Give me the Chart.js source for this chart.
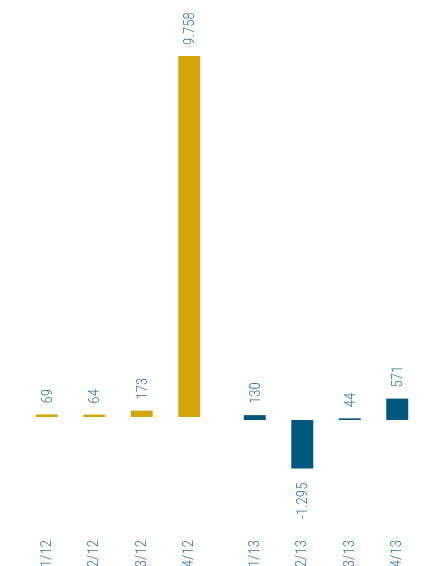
<!DOCTYPE html>
<html>
<head>
<meta charset="utf-8">
<script src="https://cdn.jsdelivr.net/npm/chart.js@4/dist/chart.umd.min.js"></script>
<style>
  html, body { margin: 0; padding: 0; background: #ffffff; overflow: hidden; }
  body { width: 424px; height: 566px; position: relative; }
  .wrap { position: absolute; top: 0; width: 190px; height: 570px; }
  #w1 { left: 23px; }
  #w2 { left: 231px; }
</style>
</head>
<body>
<div class="wrap" id="w1"><canvas id="c1" width="190" height="570"></canvas></div>
<div class="wrap" id="w2"><canvas id="c2" width="190" height="570"></canvas></div>
<script>
const categories2012 = ['1/12', '2/12', '3/12', '4/12'];
const values2012 = [69, 64, 173, 9758];
const categories2013 = ['1/13', '2/13', '3/13', '4/13'];
const values2013 = [130, -1295, 44, 571];

const GOLD = '#D3A50B';
const BLUE = '#00587F';
const TEXT = '#2a74a0';
const FAMILY = "'Roboto Condensed', 'Open Sans', sans-serif";
const WEIGHT = '300';
const SIZE = 15;

function fmt(v) {
  const s = Math.abs(v).toString().replace(/\B(?=(\d{3})+(?!\d))/g, '.');
  return (v < 0 ? '-' : '') + s;
}

const valueLabels = {
  id: 'valueLabels',
  afterDatasetsDraw(chart) {
    const ctx = chart.ctx;
    chart.data.datasets.forEach((ds, di) => {
      const meta = chart.getDatasetMeta(di);
      meta.data.forEach((bar, i) => {
        const v = ds.data[i];
        const top = Math.min(bar.y, bar.base);
        const bottom = Math.max(bar.y, bar.base);
        ctx.save();
        ctx.font = WEIGHT + ' ' + SIZE + 'px ' + FAMILY;
        ctx.fillStyle = TEXT;
        ctx.textBaseline = 'middle';
        if (v >= 0) {
          ctx.translate(bar.x + 1, top - 11);
          ctx.rotate(-Math.PI / 2);
          ctx.textAlign = 'left';
        } else {
          ctx.translate(bar.x + 1, bottom + 14);
          ctx.rotate(-Math.PI / 2);
          ctx.textAlign = 'right';
        }
        ctx.fillText(fmt(v), 0, 0);
        ctx.restore();
      });
    });
  }
};

function makeChart(id, labels, values, color, yMin, yMax) {
  return new Chart(document.getElementById(id), {
    type: 'bar',
    data: {
      labels: labels,
      datasets: [{
        data: values,
        backgroundColor: color,
        borderWidth: 0,
        categoryPercentage: 1,
        barPercentage: 0.463
      }]
    },
    options: {
      responsive: false,
      animation: false,
      devicePixelRatio: 1,
      layout: { padding: 0 },
      plugins: { legend: { display: false }, tooltip: { enabled: false } },
      scales: {
        x: {
          grid: { display: false, drawTicks: false },
          border: { display: false },
          afterFit(scale) { scale.height = 32; },
          ticks: {
            minRotation: 90,
            maxRotation: 90,
            autoSkip: false,
            padding: 2,
            color: TEXT,
            font: { family: FAMILY, size: SIZE, weight: WEIGHT }
          }
        },
        y: { display: false, min: yMin, max: yMax }
      }
    },
    plugins: [valueLabels]
  });
}

makeChart('c1', categories2012, values2012, GOLD, -3270, 11270);
makeChart('c2', categories2013, values2013, BLUE, -3147, 11200);
</script>
</body>
</html>
